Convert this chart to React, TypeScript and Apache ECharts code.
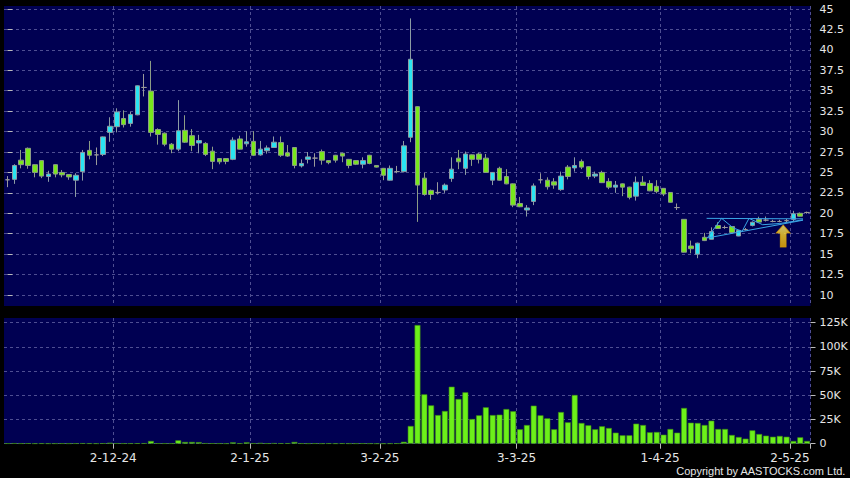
import React, { useEffect, useRef } from 'react';
import * as echarts from 'echarts';

// Trading days (HK), 8 Nov 2024 – 7 May 2025
const dates = [
  '2024-11-08','2024-11-11','2024-11-12','2024-11-13','2024-11-14','2024-11-15','2024-11-18','2024-11-19','2024-11-20','2024-11-21',
  '2024-11-22','2024-11-25','2024-11-26','2024-11-27','2024-11-28','2024-11-29','2024-12-02','2024-12-03','2024-12-04','2024-12-05',
  '2024-12-06','2024-12-09','2024-12-10','2024-12-11','2024-12-12','2024-12-13','2024-12-16','2024-12-17','2024-12-18','2024-12-19',
  '2024-12-20','2024-12-23','2024-12-24','2024-12-27','2024-12-30','2024-12-31','2025-01-02','2025-01-03','2025-01-06','2025-01-07',
  '2025-01-08','2025-01-09','2025-01-10','2025-01-13','2025-01-14','2025-01-15','2025-01-16','2025-01-17','2025-01-20','2025-01-21',
  '2025-01-22','2025-01-23','2025-01-24','2025-01-27','2025-01-28','2025-02-03','2025-02-04','2025-02-05','2025-02-06','2025-02-07',
  '2025-02-10','2025-02-11','2025-02-12','2025-02-13','2025-02-14','2025-02-17','2025-02-18','2025-02-19','2025-02-20','2025-02-21',
  '2025-02-24','2025-02-25','2025-02-26','2025-02-27','2025-02-28','2025-03-03','2025-03-04','2025-03-05','2025-03-06','2025-03-07',
  '2025-03-10','2025-03-11','2025-03-12','2025-03-13','2025-03-14','2025-03-17','2025-03-18','2025-03-19','2025-03-20','2025-03-21',
  '2025-03-24','2025-03-25','2025-03-26','2025-03-27','2025-03-28','2025-03-31','2025-04-01','2025-04-02','2025-04-03','2025-04-07',
  '2025-04-08','2025-04-09','2025-04-10','2025-04-11','2025-04-14','2025-04-15','2025-04-16','2025-04-17','2025-04-22','2025-04-23',
  '2025-04-24','2025-04-25','2025-04-28','2025-04-29','2025-04-30','2025-05-02','2025-05-06','2025-05-07',
];

const opens = [
  24.1, 24.15, 26.5, 27.95, 25.95, 26.45, 24.5, 25.95, 25.0, 24.75,
  24.05, 25.1, 27.7, 27.15, 27.2, 29.9, 30.6, 31.6, 31.0, 32.05,
  35.4, 34.95, 30.25, 29.8, 28.45, 27.85, 30.15, 29.5, 28.6, 28.55,
  27.6, 26.7, 26.7, 26.6, 29.1, 28.5, 28.8, 27.15, 27.65, 28.05,
  28.65, 27.4, 28.05, 25.8, 26.6, 26.75, 27.55, 26.45, 27.1, 27.35,
  26.6, 26.45, 26.0, 27.1, 25.85, 25.5, 24.05, 25.1, 25.1, 29.3,
  33.05, 24.3, 22.8, 22.55, 22.85, 24.25, 26.75, 25.5, 27.15, 27.25,
  26.75, 24.05, 25.5, 24.5, 23.6, 21.2, 20.4, 21.45, 24.1, 24.05,
  23.85, 22.9, 25.65, 25.55, 26.35, 25.7, 24.55, 25.0, 23.9, 23.2,
  23.6, 23.2, 22.1, 23.8, 23.65, 23.3, 23.05, 22.55, 20.7, 19.26,
  16.0, 15.0, 17.06, 16.82, 18.5, 18.26, 18.38, 17.22, 18.0, 18.52,
  19.26, 19.16, 19.0, 19.0, 19.1, 19.26, 20.0, 20.1,
];

const closes = [
  24.1, 25.85, 25.95, 25.85, 25.0, 24.55, 24.8, 24.8, 24.7, 24.45,
  24.65, 27.45, 27.1, 27.15, 29.35, 30.65, 32.4, 30.85, 32.1, 35.6,
  35.4, 29.9, 29.65, 28.45, 27.85, 30.1, 28.7, 28.3, 28.9, 27.2,
  26.35, 26.3, 26.35, 28.95, 27.85, 28.75, 27.1, 27.85, 28.0, 28.7,
  27.1, 27.0, 25.85, 26.1, 26.9, 26.75, 26.5, 26.2, 26.5, 27.0,
  25.85, 26.0, 26.45, 26.1, 25.65, 24.65, 25.5, 25.1, 28.25, 38.85,
  23.45, 22.3, 22.3, 22.55, 23.45, 25.4, 26.3, 27.25, 26.6, 26.6,
  25.0, 25.0, 24.05, 23.6, 21.0, 20.8, 20.65, 23.35, 24.1, 23.25,
  23.45, 24.55, 24.5, 25.85, 25.65, 24.5, 24.8, 23.75, 23.2, 23.45,
  23.2, 21.95, 23.8, 23.4, 22.75, 22.65, 22.35, 21.35, 20.7, 15.24,
  15.66, 16.34, 16.66, 17.76, 18.14, 18.26, 17.64, 17.9, 18.0, 18.9,
  18.92, 19.16, 19.0, 19.0, 19.1, 19.94, 19.64, 20.1,
];

const lows = [
  23.2, 23.6, 25.5, 25.45, 24.4, 24.3, 23.85, 24.4, 24.4, 24.1,
  22.0, 24.0, 26.6, 25.9, 27.0, 28.75, 29.9, 30.5, 30.6, 32.0,
  34.3, 29.4, 28.4, 28.2, 27.35, 27.6, 28.6, 27.6, 27.35, 27.0,
  25.4, 26.0, 26.0, 26.5, 27.8, 28.15, 27.0, 27.05, 27.3, 28.0,
  26.9, 26.9, 25.5, 25.6, 26.1, 25.7, 25.95, 26.0, 26.2, 26.25,
  25.5, 25.9, 25.5, 26.0, 25.6, 24.05, 24.0, 24.9, 25.0, 28.7,
  18.95, 22.15, 21.65, 22.3, 22.5, 23.85, 25.4, 24.7, 25.8, 26.1,
  24.95, 23.45, 24.0, 23.55, 20.75, 20.75, 19.6, 21.0, 23.65, 22.9,
  23.0, 22.75, 24.15, 25.1, 25.4, 24.15, 24.3, 23.7, 22.95, 22.5,
  22.1, 21.7, 21.55, 23.35, 22.7, 22.45, 22.1, 21.3, 20.4, 15.2,
  15.1, 14.5, 16.6, 16.8, 18.1, 18.1, 17.6, 17.2, 17.9, 18.4,
  18.9, 19.0, 18.9, 18.9, 18.9, 19.0, 19.6, 19.95,
];

const highs = [
  24.55, 26.0, 27.75, 28.05, 26.0, 26.5, 25.2, 26.0, 25.3, 24.8,
  24.9, 27.75, 28.85, 28.05, 29.4, 31.75, 32.85, 32.6, 32.4, 35.65,
  37.05, 38.65, 30.4, 29.9, 28.6, 33.85, 32.0, 30.3, 29.6, 28.7,
  28.15, 26.75, 26.75, 29.3, 29.5, 30.05, 30.05, 28.85, 28.3, 29.4,
  29.4, 28.35, 28.1, 26.6, 27.5, 27.35, 27.8, 26.5, 27.15, 27.4,
  26.65, 26.5, 26.85, 27.15, 25.9, 25.55, 25.85, 25.8, 28.85, 43.85,
  33.1, 24.95, 22.9, 23.8, 23.65, 26.85, 27.75, 27.55, 27.2, 27.4,
  27.25, 25.05, 25.7, 25.4, 23.65, 22.0, 21.0, 23.65, 24.9, 24.4,
  24.3, 25.1, 25.9, 26.85, 26.6, 25.75, 25.1, 25.2, 24.3, 23.95,
  23.65, 23.25, 24.5, 24.55, 24.05, 24.05, 23.1, 22.6, 21.2, 19.3,
  16.66, 16.4, 17.6, 18.28, 18.9, 18.5, 18.4, 17.95, 18.2, 19.0,
  19.58, 19.6, 19.2, 19.2, 19.3, 20.3, 20.1, 20.2,
];

// Volume in thousands of shares
const volumesK = [
  0.3, 0.5, 0.3, 0.4, 0.2, 0.3, 0.2, 0.2, 0.3, 0.2,
  0.3, 0.5, 0.3, 0.2, 0.4, 1.0, 0.5, 0.3, 0.3, 0.4,
  0.5, 2.8, 0.4, 0.3, 0.3, 3.5, 1.8, 1.8, 1.6, 0.5,
  0.4, 0.3, 0.2, 1.4, 0.3, 1.4, 0.5, 0.8, 0.3, 0.6,
  0.4, 0.5, 1.8, 0.3, 0.2, 0.3, 0.2, 0.3, 0.2, 0.3,
  0.2, 0.2, 0.3, 0.2, 0.1, 0.1, 0.2, 0.3, 2.0, 18.3,
  122.6, 51.0, 39.6, 29.6, 33.8, 58.9, 46.2, 53.1, 25.5, 29.3,
  37.6, 29.6, 30.0, 35.8, 33.5, 14.9, 19.3, 39.3, 29.3, 26.2,
  14.9, 32.7, 22.1, 50.3, 21.4, 19.0, 14.9, 18.0, 16.2, 11.4,
  8.7, 8.7, 20.7, 19.3, 11.8, 12.1, 9.3, 15.2, 11.4, 36.9,
  21.7, 21.4, 19.3, 23.8, 15.2, 15.2, 9.0, 6.9, 5.2, 13.8,
  10.0, 8.3, 7.2, 8.0, 7.2, 2.8, 6.6, 2.8,
];

const tickDates = ['2024-12-02', '2025-01-02', '2025-02-03', '2025-03-03', '2025-04-01', '2025-05-02'];
const tickLabels = ['2-12-24', '2-1-25', '3-2-25', '3-3-25', '1-4-25', '2-5-25'];

// Pattern annotation (x = trading-day index, y = price)
const triangleUpper = [[102.3, 19.38], [116.4, 19.32]];
const triangleLower = [[102.4, 16.98], [116.4, 19.15]];
const zigzag = [[102.4, 16.98], [104.5, 19.38], [106.2, 18.2], [107.5, 17.8], [108.5, 19.38], [110.5, 18.6], [113, 18.75], [116.4, 19.2]];
const arrowMark = [[113.5, 17.22]];

const NAVY = '#000052';
const GRIDLINE = '#4e4e92';
const TEXT = '#e6e6e6';

const L = 4;
const W = 806.5;

export default function App() {
  const ref = useRef<HTMLDivElement>(null);

  useEffect(() => {
    document.body.style.margin = '0';
    const chart = echarts.init(ref.current!, undefined, { renderer: 'svg' });
    const tickIdx = tickDates.map((d) => dates.indexOf(d));
    const isTick = (i: number) => tickIdx.indexOf(i) >= 0;
    const n = dates.length;
    const candles = dates.map((_, i) => [opens[i], closes[i], lows[i], highs[i]]);
    const vols = volumesK.map((v) => v * 1000);

    const dashed = { show: true, lineStyle: { color: GRIDLINE, type: [3, 3] as any, width: 1 } };
    const hiddenCat = (gridIndex: number, extra: any = {}) => ({
      type: 'category', gridIndex, data: dates, boundaryGap: true,
      axisLine: { show: false }, axisTick: { show: false }, axisLabel: { show: false }, splitLine: { show: false },
      ...extra,
    });

    const option: any = {
      animation: false,
      backgroundColor: '#000000',
      grid: [
        { left: L, top: 9, width: W, height: 286, outerBoundsMode: 'none' },
        { left: L, top: 322.7, width: W, height: 121, outerBoundsMode: 'none' },
        { left: L, top: 6, width: W, height: 300, show: true, backgroundColor: NAVY, borderWidth: 0, outerBoundsMode: 'none' },
        { left: L, top: 318, width: W, height: 126, show: true, backgroundColor: NAVY, borderWidth: 0, outerBoundsMode: 'none' },
      ],
      xAxis: [
        hiddenCat(0),
        hiddenCat(1, {
          axisTick: { show: true, interval: (i: number) => isTick(i), length: 5, lineStyle: { color: '#bbbbbb' } },
          axisLabel: {
            show: true,
            interval: (i: number) => isTick(i),
            formatter: (_v: string, i: number) => tickLabels[tickIdx.indexOf(i)] ?? '',
            color: TEXT, fontFamily: 'DejaVu Sans', fontSize: 12, margin: 8,
            padding: [0, 7, 0, 0],
          },
        }),
        hiddenCat(2, { splitLine: { ...dashed, interval: (i: number) => isTick(i) } }),
        hiddenCat(3, { splitLine: { ...dashed, interval: (i: number) => isTick(i) } }),
        { type: 'value', gridIndex: 0, min: -0.5, max: n - 0.5, show: false },
      ],
      yAxis: [
        {
          type: 'value', gridIndex: 0, position: 'right', min: 10, max: 45, interval: 2.5,
          axisLine: { show: false },
          axisTick: { show: true, length: 5, lineStyle: { color: '#bbbbbb' } },
          axisLabel: { color: TEXT, fontFamily: 'DejaVu Sans', fontSize: 11, margin: 9 },
          splitLine: dashed,
        },
        {
          type: 'value', gridIndex: 1, position: 'right', min: 0, max: 125000, interval: 25000,
          axisLine: { show: false },
          axisTick: { show: true, length: 5, lineStyle: { color: '#bbbbbb' } },
          axisLabel: {
            color: TEXT, fontFamily: 'DejaVu Sans', fontSize: 11, margin: 9,
            formatter: (v: number) => (v === 0 ? '0' : v / 1000 + 'K'),
          },
          splitLine: dashed,
        },
        { type: 'value', gridIndex: 2, min: 0, max: 1, show: false },
        { type: 'value', gridIndex: 3, min: 0, max: 1, show: false },
      ],
      series: [
        {
          type: 'candlestick', xAxisIndex: 0, yAxisIndex: 0, data: candles, barWidth: 5,
          itemStyle: {
            color: '#2ae4f2', color0: '#78e81c',
            borderColor: '#8c9ca4', borderColor0: '#8c9c86', borderColorDoji: '#9a9a9a', borderWidth: 1,
          },
        },
        {
          type: 'bar', xAxisIndex: 1, yAxisIndex: 1, data: vols, barWidth: '86%',
          itemStyle: { color: '#6cf01a', borderColor: '#3c8a12', borderWidth: 0.6 },
        },
        {
          type: 'line', xAxisIndex: 4, yAxisIndex: 0, data: triangleUpper, showSymbol: false, silent: true,
          lineStyle: { color: '#3aa6e6', width: 1 },
        },
        {
          type: 'line', xAxisIndex: 4, yAxisIndex: 0, data: triangleLower, showSymbol: false, silent: true,
          lineStyle: { color: '#3aa6e6', width: 1 },
        },
        {
          type: 'line', xAxisIndex: 4, yAxisIndex: 0, data: zigzag, showSymbol: false, silent: true,
          lineStyle: { color: '#3aa6e6', width: 1 },
        },
        {
          type: 'scatter', xAxisIndex: 4, yAxisIndex: 0, data: arrowMark, silent: true,
          symbol: 'path://M7,0 L14,8 L10,8 L10,22 L4,22 L4,8 L0,8 Z', symbolSize: [14, 22], symbolKeepAspect: false,
          itemStyle: {
            color: new echarts.graphic.LinearGradient(0, 0, 0, 1, [
              { offset: 0, color: '#fff27a' },
              { offset: 0.5, color: '#ffd21e' },
              { offset: 1, color: '#f6b400' },
            ]),
            borderColor: '#d89a00', borderWidth: 0.8,
          },
        },
      ],
      graphic: [
        {
          type: 'text', right: 4, top: 465,
          style: {
            text: 'Copyright by AASTOCKS.com Ltd.',
            fill: TEXT, fontSize: 11, fontFamily: '"Liberation Sans", Arial, sans-serif',
          },
        },
      ],
    };
    chart.setOption(option);
    return () => chart.dispose();
  }, []);

  return (
    <div
      ref={ref}
      style={{ position: 'fixed', left: 0, top: 0, width: 850, height: 478, background: '#000' }}
    />
  );
}
